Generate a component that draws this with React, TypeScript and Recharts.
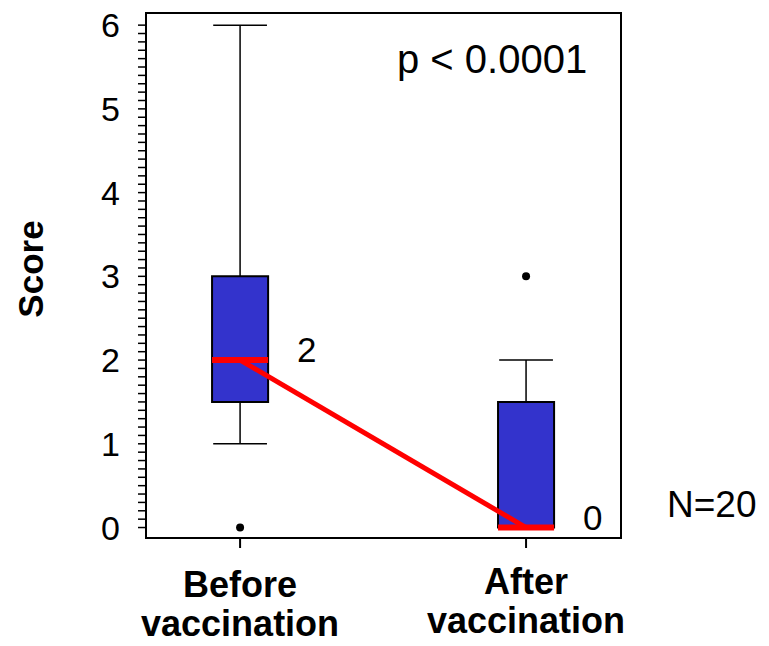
import {
  ComposedChart,
  Line,
  LabelList,
  ReferenceArea,
  ReferenceDot,
  ReferenceLine,
  XAxis,
  YAxis,
} from "recharts";

const groupLines = [
  ["Before", "vaccination"],
  ["After", "vaccination"],
];
const groupPos = [0, 1];
const mins = [1, 0];
const q1s = [1.5, 0];
const medians = [2, 0];
const q3s = [3, 1.5];
const maxs = [6, 2];
const outliers = [[0], [3]];

const majorTicks = [0, 1, 2, 3, 4, 5, 6];
const minorTicks = Array.from({ length: 61 }, (_, i) => i / 10);

const X_DOMAIN: [number, number] = [-0.329, 1.332];
const Y_DOMAIN: [number, number] = [-0.125, 6.145];
const BOX_HALF = 0.098;
const CAP_HALF = 0.094;

const font = "'Liberation Sans', Arial, Helvetica, sans-serif";
const boxBlue = "#3333cc";

const rows = groupPos.map((pos, i) => ({ pos, median: medians[i] }));

function GroupTick({ x, y, payload }: any) {
  const lines = groupLines[payload.value] || [];
  const lift = payload.value === 1 ? 3 : 0;
  return (
    <g>
      <text x={x} y={y + 47 - lift} textAnchor="middle" fontFamily={font} fontWeight="bold" fontSize={36} fill="#000">
        {lines[0]}
      </text>
      <text x={x} y={y + 86 - lift} textAnchor="middle" fontFamily={font} fontWeight="bold" fontSize={36} fill="#000">
        {lines[1]}
      </text>
    </g>
  );
}

function MedianLabel({ x, y, value }: any) {
  return (
    <text x={x + 57} y={y + 2} fontFamily={font} fontSize={35} fill="#000">
      {value}
    </text>
  );
}

export default function App() {
  return (
    <div style={{ position: "absolute", left: 0, top: 0, background: "#fff" }}>
      <ComposedChart
        width={769}
        height={646}
        data={rows}
        margin={{ top: 13, right: 148, bottom: 0, left: 0 }}
      >
        <XAxis
          type="number"
          dataKey="pos"
          domain={X_DOMAIN}
          ticks={groupPos}
          allowDataOverflow
          height={108}
          tickSize={10}
          tickMargin={2}
          axisLine={{ stroke: "#000", strokeWidth: 2 }}
          tickLine={{ stroke: "#000", strokeWidth: 2 }}
          tick={<GroupTick />}
        />
        <YAxis
          type="number"
          domain={Y_DOMAIN}
          ticks={minorTicks}
          interval={0}
          allowDataOverflow
          width={146}
          tickSize={8}
          tickMargin={18}
          axisLine={{ stroke: "#000", strokeWidth: 2 }}
          tickLine={{ stroke: "#000", strokeWidth: 1.5 }}
          tickFormatter={(v: number) => (majorTicks.includes(v) ? String(v) : "")}
          tick={{ fontFamily: font, fontSize: 34, fill: "#000" }}
        />
        <ReferenceArea
          x1={X_DOMAIN[0]}
          x2={X_DOMAIN[1]}
          y1={Y_DOMAIN[0]}
          y2={Y_DOMAIN[1]}
          ifOverflow="visible"
          fill="none"
          stroke="#000"
          strokeWidth={2}
        />
        {groupPos.map((pos, i) => (
          <ReferenceLine
            key={`wu${i}`}
            segment={[
              { x: pos, y: q3s[i] },
              { x: pos, y: maxs[i] },
            ]}
            stroke="#000"
            strokeWidth={1.5}
          />
        ))}
        {groupPos.map((pos, i) => (
          <ReferenceLine
            key={`cu${i}`}
            segment={[
              { x: pos - CAP_HALF, y: maxs[i] },
              { x: pos + CAP_HALF, y: maxs[i] },
            ]}
            stroke="#000"
            strokeWidth={1.5}
          />
        ))}
        {groupPos.map((pos, i) =>
          mins[i] < q1s[i] ? (
            <ReferenceLine
              key={`wl${i}`}
              segment={[
                { x: pos, y: q1s[i] },
                { x: pos, y: mins[i] },
              ]}
              stroke="#000"
              strokeWidth={1.5}
            />
          ) : null
        )}
        {groupPos.map((pos, i) =>
          mins[i] < q1s[i] ? (
            <ReferenceLine
              key={`cl${i}`}
              segment={[
                { x: pos - CAP_HALF, y: mins[i] },
                { x: pos + CAP_HALF, y: mins[i] },
              ]}
              stroke="#000"
              strokeWidth={1.5}
            />
          ) : null
        )}
        {groupPos.map((pos, i) => (
          <ReferenceArea
            key={`box${i}`}
            x1={pos - BOX_HALF}
            x2={pos + BOX_HALF}
            y1={q1s[i]}
            y2={q3s[i]}
            fill={boxBlue}
            fillOpacity={1}
            stroke="#000"
            strokeWidth={2}
          />
        ))}
        {groupPos.map((pos, i) => (
          <ReferenceLine
            key={`med${i}`}
            segment={[
              { x: pos - BOX_HALF, y: medians[i] },
              { x: pos + BOX_HALF, y: medians[i] },
            ]}
            stroke="#ff0000"
            strokeWidth={6}
          />
        ))}
        {groupPos.map((pos, i) =>
          outliers[i].map((v, j) => (
            <ReferenceDot key={`o${i}-${j}`} x={pos} y={v} r={4} fill="#000" stroke="none" />
          ))
        )}
        <Line
          dataKey="median"
          stroke="#ff0000"
          strokeWidth={5}
          dot={false}
          isAnimationActive={false}
        >
          <LabelList dataKey="median" content={<MedianLabel />} />
        </Line>
        <text x={397} y={73} fontFamily={font} fontSize={40} fill="#000">
          p &lt; 0.0001
        </text>
        <text x={667} y={517} fontFamily={font} fontSize={37} fill="#000">
          N=20
        </text>
        <text
          x={30}
          y={269}
          transform="rotate(-90 30 269)"
          textAnchor="middle"
          dominantBaseline="central"
          fontFamily={font}
          fontWeight="bold"
          fontSize={35}
          fill="#000"
        >
          Score
        </text>
      </ComposedChart>
    </div>
  );
}
